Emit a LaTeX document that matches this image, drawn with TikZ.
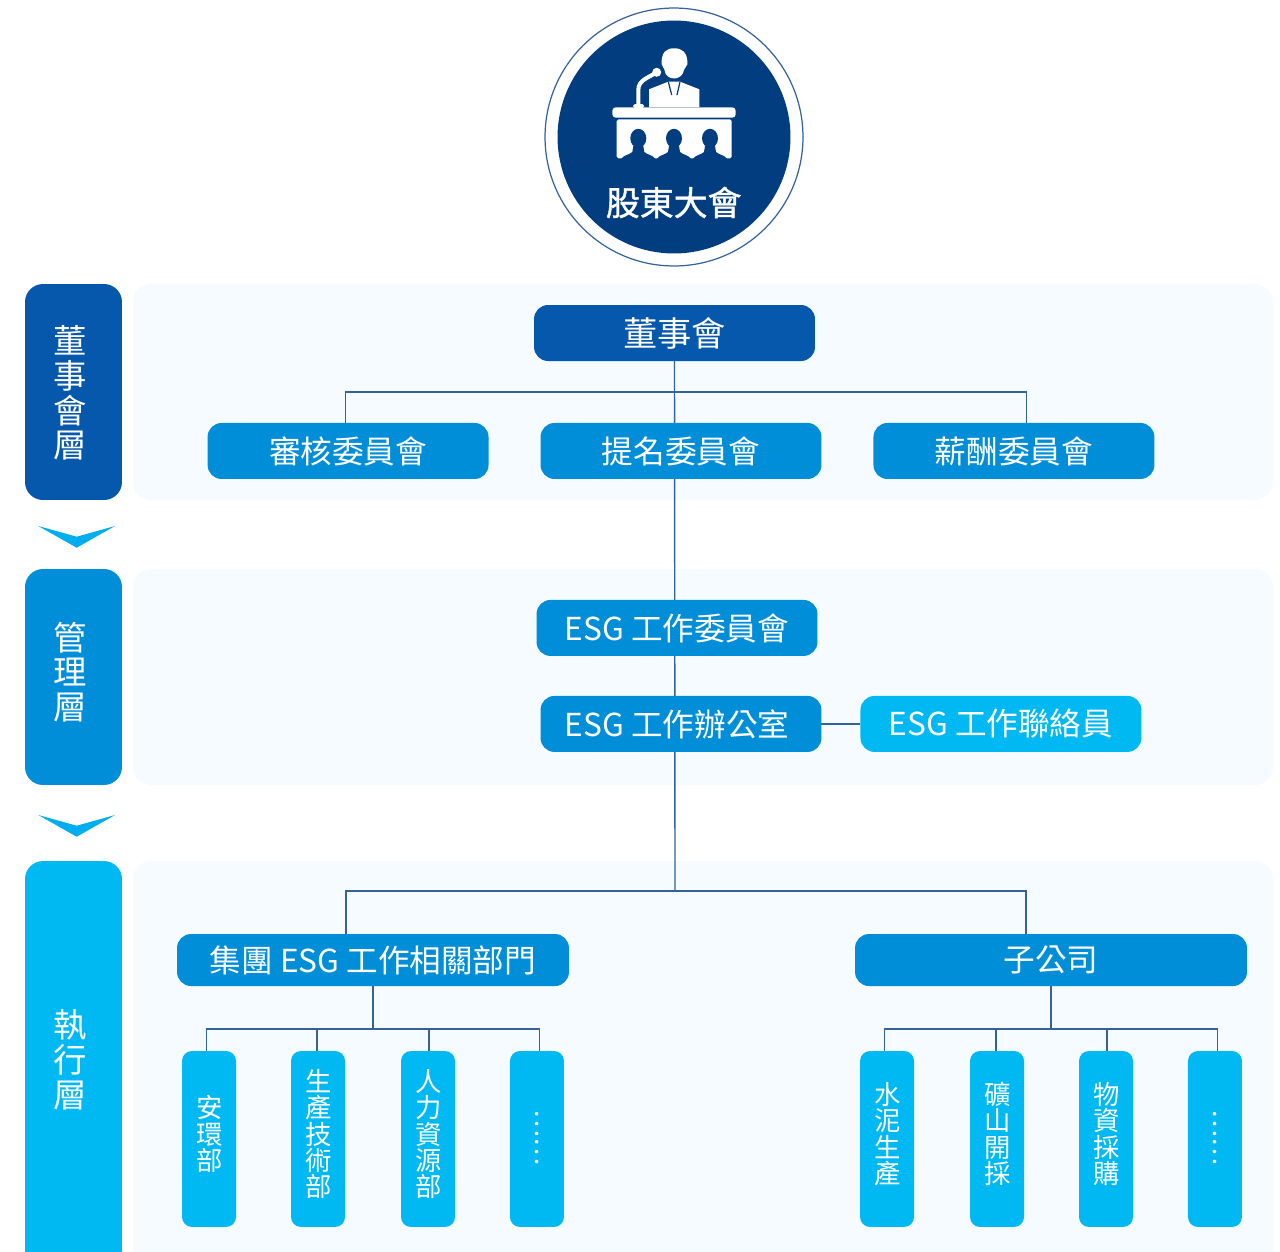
\documentclass[tikz,border=0pt]{standalone}
\usepackage{fontspec}
\usepackage{graphicx}
\setmainfont{Noto Sans CJK TC}
\newfontfamily\meetfont[FakeBold=1.2]{Noto Sans CJK TC}
\usetikzlibrary{positioning, backgrounds, calc}
\definecolor{navy}{HTML}{023E7F}
\definecolor{bandone}{HTML}{0558AB}
\definecolor{bandtwo}{HTML}{008ED8}
\definecolor{bandthree}{HTML}{00B9F2}
\definecolor{panelblue}{HTML}{F6FBFF}
\definecolor{linkblue}{HTML}{34639C}
\definecolor{chevronblue}{HTML}{00AEEF}
\tikzstyle{wide} = [rectangle, rounded corners=.28cm, minimum width=5.62cm, minimum height=1.12cm, inner sep=0pt, outer sep=0pt, text centered, text=white, fill=bandtwo, font=\fontsize{18}{20}\selectfont]
\tikzstyle{group} = [wide, minimum width=7.84cm, minimum height=1.04cm]
\tikzstyle{unit} = [rectangle, rounded corners=.2cm, minimum width=1.08cm, minimum height=3.52cm, inner sep=0pt, outer sep=0pt, fill=bandthree]
\tikzstyle{unittext} = [align=center, inner sep=0pt, text=white, xshift=.5pt, yshift=2.8pt, font=\fontsize{15}{15}\selectfont]
\tikzstyle{band} = [rectangle, rounded corners=.36cm, minimum width=1.94cm, inner sep=0pt, outer sep=0pt]
\tikzstyle{bandtext} = [align=center, inner sep=0pt, text=white, font=\fontsize{19}{19.8}\selectfont]
\tikzstyle{panel} = [fill=panelblue, rounded corners=.36cm]
\tikzstyle{link} = [linkblue, line width=.8pt]
\newcommand{\seated}[1]{%
    \fill[navy] (#1,138.3) ellipse [x radius=8, y radius=9.5];
    \fill[navy, shift={(#1,0)}] (-17,159) .. controls (-15,155) and (-9,155) .. (-6,152) -- (-5,146) -- (5,146) -- (6,152) .. controls (9,155) and (15,155) .. (17,159) -- cycle;
}
\begin{document}
\begin{tikzpicture}[x=0.02cm, y=-0.02cm]
    \useasboundingbox (0,0) rectangle (1280,1251);

    % Panels
    \begin{scope}[on background layer]
        \fill[panel] (133,284) rectangle (1273,500);
        \fill[panel] (133,569) rectangle (1273,785);
        \fill[panel] (133,861) rectangle (1273,1270);
    \end{scope}

    % Shareholders
    \node (meeting) [circle, draw=linkblue, line width=.7pt, minimum size=5.16cm, inner sep=0pt] at (674,137) {};
    \node (meetingdisc) [circle, fill=navy, minimum size=4.66cm, inner sep=0pt] at (674,137) {};
    \fill[white] (661.5,64) .. controls (661.5,52) and (666,48.3) .. (674.3,48.3) .. controls (682,48.3) and (687.5,52) .. (687.5,64) -- (684,70) .. controls (683,76) and (678,78.5) .. (674.3,78.5) .. controls (670,78.5) and (665,76) .. (664.5,70) -- cycle;
    \fill[white] (649,107) -- (649,89.3) -- (668.3,81.7) -- (680,81.7) -- (699.3,89.3) -- (699.3,107) -- cycle;
    \draw[navy, line width=.7pt] (668.3,81.7) -- (671.7,95) (680,81.7) -- (677,95);
    \draw[white, line width=2.3pt] (638.3,106) -- (638.3,90) .. controls (638.3,80) and (648,78) .. (656.7,72.3);
    \fill[white] (656.7,72.3) circle [radius=4.5];
    \fill[white, rounded corners=1pt] (633,108) rectangle (644,104);
    \fill[white, rounded corners=2pt] (612.3,107.3) rectangle (735.7,117.7);
    \fill[white, rounded corners=1pt] (616.7,119.3) rectangle (731.7,158.3);
    \seated{638.3}
    \seated{674}
    \seated{710}
    \node (meetingtext) [text=white, inner sep=0pt, font=\fontsize{19.3}{20}\meetfont] at (673.7,202.5) {股東大會};

    % Left bands
    \node (boardlevel) [band, fill=bandone, minimum height=4.32cm] at (73.5,392) {};
    \node (boardleveltext) [bandtext] at (70.3,393) {董\\事\\會\\層};
    \node (managelevel) [band, fill=bandtwo, minimum height=4.32cm] at (73.5,677) {};
    \node (manageleveltext) [bandtext] at (70.3,672) {管\\理\\層};
    \node (worklevel) [band, fill=bandthree, minimum height=8.18cm] at (73.5,1065.5) {};
    \node (workleveltext) [bandtext] at (70.3,1059.5) {執\\行\\層};

    % Chevrons
    \fill[chevronblue] (38.3,526) -- (76.7,536.7) -- (115,526) -- (76.7,547.7) -- cycle;
    \fill[chevronblue] (38.3,815) -- (76.7,825.7) -- (115,815) -- (76.7,836.7) -- cycle;

    % Nodes
    \node (board) [wide, fill=bandone, font=\fontsize{19.5}{20}\selectfont] at (674.5,333) {董事會};
    \node (nominate) [wide, below=1.24cm of board, xshift=.13cm] {提名委員會};
    \node (audit) [wide, left=1.04cm of nominate] {審核委員會};
    \node (pay) [wide, right=1.04cm of nominate] {薪酬委員會};
    \node (esgwork) [wide, below=2.42cm of nominate, xshift=-.08cm] {ESG 工作委員會};
    \node (esgoffice) [wide, below=.8cm of esgwork, xshift=.08cm] {ESG 工作辦公室\kern4.5pt};
    \node (liaison) [wide, right=.78cm of esgoffice, fill=bandthree] {ESG 工作聯絡員};
    \node (dept) [group] at (373,960) {集團 ESG 工作相關部門};
    \node (subsid) [group] at (1051,960) {子公司};

    \node (safety) [unit, below=1.3cm of dept, xshift=-3.28cm, label={[unittext]center:安\\環\\部}] {};
    \node (tech) [unit, right=1.1cm of safety, label={[unittext]center:生\\產\\技\\術\\部}] {};
    \node (people) [unit, right=1.12cm of tech, label={[unittext]center:人\\力\\資\\源\\部}] {};
    \node (deptmore) [unit, right=1.1cm of people, label={[unittext, xshift=-.3pt, yshift=-2.8pt]center:\rotatebox{90}{……}}] {};
    \node (cement) [unit, below=1.3cm of subsid, xshift=-3.28cm, label={[unittext]center:水\\泥\\生\\產}] {};
    \node (mining) [unit, right=1.12cm of cement, label={[unittext]center:礦\\山\\開\\採}] {};
    \node (purchase) [unit, right=1.1cm of mining, label={[unittext]center:物\\資\\採\\購}] {};
    \node (subsidmore) [unit, right=1.1cm of purchase, label={[unittext, xshift=-.3pt, yshift=-2.8pt]center:\rotatebox{90}{……}}] {};

    \coordinate (topbus) at (675,392);
    \coordinate (midbus) at (675,891);
    \coordinate (deptbus) at (373,1029);
    \coordinate (subsidbus) at (1051,1029);

    % Lines
    \begin{scope}[on background layer]
        \draw [link] (board.south) -- (midbus);
        \draw [link] ($(audit.north)+(-2.5,0)$) |- (topbus);
        \draw [link] ($(pay.north)+(12.5,0)$) |- (topbus);
        \draw [link] ($(dept.north)+(-27,0)$) |- (midbus);
        \draw [link] ($(subsid.north)+(-25,0)$) |- (midbus);
        \draw [link] (esgoffice) -- (liaison);
        \draw [link] (dept.south) -- (deptbus);
        \draw [link] (subsid.south) -- (subsidbus);
        \draw [link] ($(safety.north)+(-2.5,0)$) |- (deptbus);
        \draw [link] ($(tech.north)+(-1,0)$) |- (deptbus);
        \draw [link] ($(people.north)+(1,0)$) |- (deptbus);
        \draw [link] ($(deptmore.north)+(2.5,0)$) |- (deptbus);
        \draw [link] ($(cement.north)+(-2.5,0)$) |- (subsidbus);
        \draw [link] ($(mining.north)+(-1,0)$) |- (subsidbus);
        \draw [link] ($(purchase.north)+(1,0)$) |- (subsidbus);
        \draw [link] ($(subsidmore.north)+(2.5,0)$) |- (subsidbus);
    \end{scope}
\end{tikzpicture}
\end{document}
